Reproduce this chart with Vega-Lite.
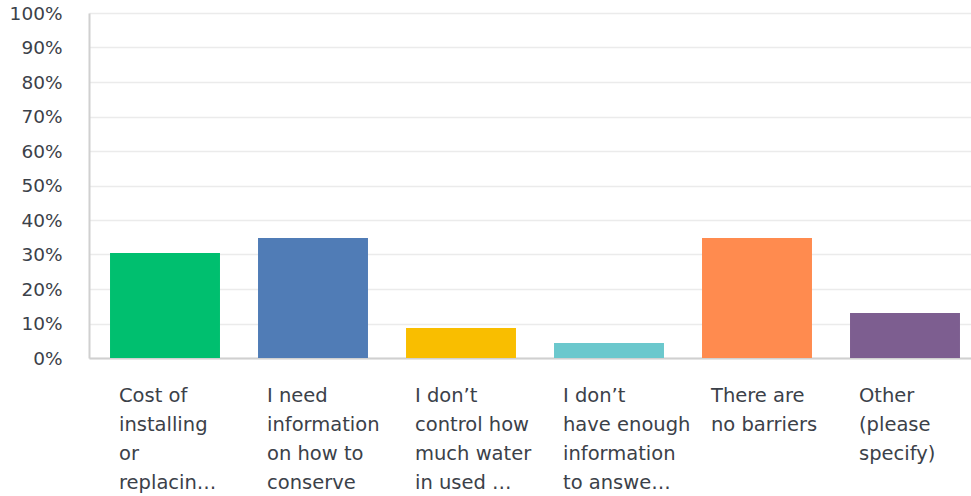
{
  "$schema": "https://vega.github.io/schema/vega-lite/v6.json",
  "width": 892,
  "height": 345,
  "autosize": "none",
  "padding": {"left": 89, "top": 13, "right": 0, "bottom": 138},
  "background": "white",
  "data": {
    "values": [
      {"answer": "Cost of\ninstalling\nor\nreplacin…", "pct": 0.3043},
      {"answer": "I need\ninformation\non how to\nconserve", "pct": 0.3478},
      {"answer": "I don’t\ncontrol how\nmuch water\nin used …", "pct": 0.087},
      {"answer": "I don’t\nhave enough\ninformation\nto answe…", "pct": 0.0435},
      {"answer": "There are\nno barriers", "pct": 0.3478},
      {"answer": "Other\n(please\nspecify)", "pct": 0.1304}
    ]
  },
  "mark": {"type": "bar"},
  "encoding": {
    "x": {
      "field": "answer",
      "type": "nominal",
      "sort": null,
      "scale": {"paddingInner": 0.257, "paddingOuter": 0.142},
      "axis": {
        "title": null,
        "labelAngle": 0,
        "labelAlign": "left",
        "labelBaseline": "top",
        "labelOffset": -46,
        "labelPadding": 28,
        "labelFont": "DejaVu Sans",
        "labelFontSize": 19.5,
        "labelLineHeight": 29,
        "labelColor": "#3b4149",
        "labelLimit": 200,
        "labelExpr": "split(datum.value, '\\n')",
        "ticks": false,
        "domainColor": "#d0d0d0",
        "domainWidth": 2,
        "grid": false
      }
    },
    "y": {
      "field": "pct",
      "type": "quantitative",
      "scale": {"domain": [0, 1], "nice": false},
      "axis": {
        "title": null,
        "values": [0, 0.1, 0.2, 0.3, 0.4, 0.5, 0.6, 0.7, 0.8, 0.9, 1],
        "format": ".0%",
        "labelFont": "DejaVu Sans",
        "labelFontSize": 18.5,
        "labelColor": "#3b4149",
        "labelPadding": 27,
        "ticks": false,
        "domainColor": "#d0d0d0",
        "domainWidth": 2,
        "gridColor": "#ebebeb",
        "gridWidth": 1.5
      }
    },
    "color": {
      "field": "answer",
      "type": "nominal",
      "sort": null,
      "legend": null,
      "scale": {"range": ["#00BF6F", "#507CB6", "#F9BE00", "#6BC8CD", "#FF8B4F", "#7D5E90"]}
    }
  },
  "config": {"view": {"stroke": null}}
}
